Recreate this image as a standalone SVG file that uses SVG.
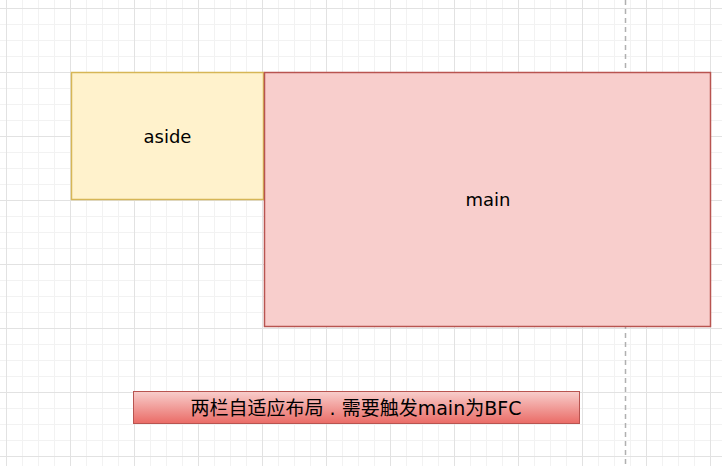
<svg xmlns="http://www.w3.org/2000/svg" width="722" height="466" viewBox="0 0 722 466">
  <defs>
    <pattern id="minor" x="6" y="8" width="16" height="16" patternUnits="userSpaceOnUse">
      <path d="M0 0.5H16M0.5 0V16" fill="none" stroke="#f2f2f2" stroke-width="1"/>
    </pattern>
    <pattern id="major" x="6" y="8" width="64" height="64" patternUnits="userSpaceOnUse">
      <path d="M0 0.5H64M0.5 0V64" fill="none" stroke="#e2e2e2" stroke-width="1"/>
    </pattern>
    <linearGradient id="redgrad" x1="0" y1="0" x2="0" y2="1">
      <stop offset="0" stop-color="#f8cecc"/>
      <stop offset="1" stop-color="#ea6b66"/>
    </linearGradient>
  </defs>
  <style>
    .lbl { font-family: "DejaVu Sans", "Noto Sans CJK SC", sans-serif; font-size: 18px; fill: #000; text-anchor: middle; dominant-baseline: central; }
    .cap { font-family: "DejaVu Sans", "Noto Sans CJK SC", sans-serif; font-size: 19px; fill: #000; text-anchor: middle; dominant-baseline: central; white-space: pre; }
  </style>
  <rect width="722" height="466" fill="#ffffff"/>
  <rect width="722" height="466" fill="url(#minor)"/>
  <rect width="722" height="466" fill="url(#major)"/>
  <g id="guide">
    <line x1="625.5" y1="0" x2="625.5" y2="466" stroke="#b0b0b0" stroke-width="1.5" stroke-dasharray="5 4"/>
  </g>
  <g id="connectors"></g>
  <g id="aside">
    <rect x="71.5" y="72.5" width="192" height="127" fill="#fff2cc" stroke="#d6b656" stroke-width="1.5"/>
    <text class="lbl" x="167.5" y="136">aside</text>
  </g>
  <g id="main">
    <rect x="264.5" y="72.5" width="446" height="254" fill="#f8cecc" stroke="#b85450" stroke-width="1.5"/>
    <text class="lbl" x="488" y="199">main</text>
  </g>
  <g id="caption">
    <rect x="133.5" y="391.5" width="446" height="32" fill="url(#redgrad)" stroke="#b85450" stroke-width="1"/>
    <text class="cap" x="356" y="408">两栏自适应布局 . 需要触发main为BFC</text>
  </g>
</svg>
